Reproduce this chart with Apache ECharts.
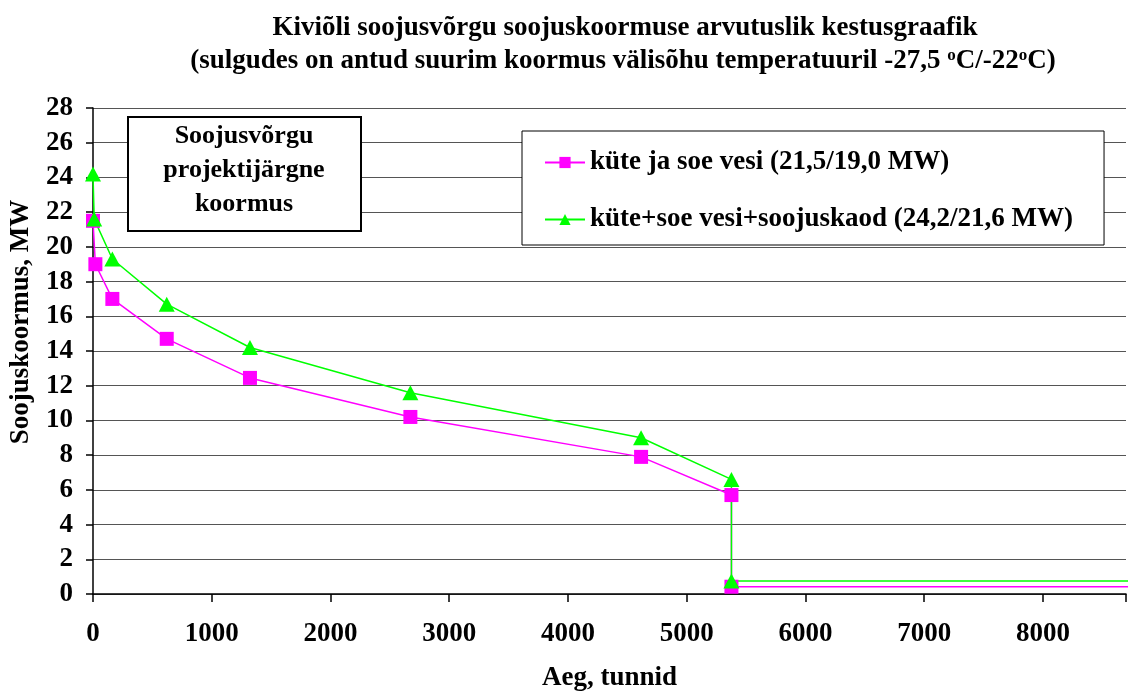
<!DOCTYPE html>
<html>
<head>
<meta charset="utf-8">
<script src="https://cdn.jsdelivr.net/npm/echarts@6/dist/echarts.min.js"></script>
<style>html,body{margin:0;padding:0;background:#fff}#c{width:1129px;height:697px}</style>
</head>
<body>
<div id="c"></div>
<script>
// Data (hours, MW)
const hoursHeat = [0, 20, 163, 621, 1322, 2673, 4616, 5377, 5377, 8760];
const loadHeat  = [21.5, 19.0, 17.0, 14.7, 12.45, 10.2, 7.9, 5.7, 0.42, 0.42];
const hoursTotal = [0, 10, 163, 621, 1322, 2673, 4616, 5377, 5377, 8760];
const loadTotal  = [24.2, 21.6, 19.3, 16.7, 14.2, 11.6, 9.0, 6.6, 0.75, 0.75];
const seriesNames = ['küte ja soe vesi (21,5/19,0 MW)', 'küte+soe vesi+soojuskaod (24,2/21,6 MW)'];
const yTicks = [0, 2, 4, 6, 8, 10, 12, 14, 16, 18, 20, 22, 24, 26, 28];
const xTicks = [0, 1000, 2000, 3000, 4000, 5000, 6000, 7000, 8000];

const F = '"Liberation Serif", "Times New Roman", serif';
const chart = echarts.init(document.getElementById('c'));
const pairs = (xs, ys) => xs.map((x, i) => [x, ys[i]]);

chart.setOption({
  animation: false,
  backgroundColor: '#fff',
  title: [
    { text: 'Kiviõli soojusvõrgu soojuskoormuse arvutuslik kestusgraafik', left: 620, top: 10, textAlign: 'center',
      textStyle: { fontFamily: F, fontWeight: 'bold', fontSize: 27, color: '#000' } },
    { text: '(sulgudes on antud suurim koormus välisõhu temperatuuril -27,5 {s|o}C/-22{s|o}C)', left: 618, top: 42, textAlign: 'center',
      textStyle: { fontFamily: F, fontWeight: 'bold', fontSize: 27, color: '#000',
        rich: { s: { fontFamily: F, fontWeight: 'bold', fontSize: 17, color: '#000', verticalAlign: 'top', padding: [0, 0, 12, 0] } } } }
  ],
  grid: { left: 93, right: 0, top: 108, bottom: 97 },
  xAxis: {
    type: 'value', min: 0, max: 8700, interval: 1000,
    name: 'Aeg, tunnid', nameLocation: 'middle', nameGap: 71,
    nameTextStyle: { fontFamily: F, fontWeight: 'bold', fontSize: 27, color: '#000' },
    axisLine: { show: true, lineStyle: { color: '#000', width: 1.5 } },
    axisTick: { show: true, inside: false, length: 8, lineStyle: { color: '#000', width: 1.5 } },
    axisLabel: { fontFamily: F, fontWeight: 'bold', fontSize: 27, color: '#000', margin: 27,
      formatter: v => xTicks.includes(v) ? String(v) : '' },
    splitLine: { show: false }
  },
  yAxis: {
    type: 'value', min: 0, max: 28, interval: 2,
    axisLine: { show: true, lineStyle: { color: '#000', width: 1.5 } },
    axisTick: { show: true, inside: false, length: 7, lineStyle: { color: '#000', width: 1.5 } },
    axisLabel: { fontFamily: F, fontWeight: 'bold', fontSize: 27, color: '#000', margin: 20,
      formatter: v => yTicks.includes(v) ? String(v) : '' },
    splitLine: { show: true, lineStyle: { color: '#555', width: 1.2 } }
  },
  legend: {
    orient: 'vertical', left: 522, top: 131,
    padding: [18, 31, 12, 22], itemGap: 30, itemWidth: 40, itemHeight: 14,
    backgroundColor: '#fff', borderColor: '#000', borderWidth: 1,
    textStyle: { fontFamily: F, fontWeight: 'bold', fontSize: 27, color: '#000' },
    data: seriesNames
  },
  graphic: [
    { type: 'rect', left: 127, top: 116, shape: { width: 233, height: 114 },
      style: { fill: '#fff', stroke: '#000', lineWidth: 2 }, z: 10 },
    { type: 'text', x: 244, y: 170, z: 11,
      style: { text: 'Soojusvõrgu\nprojektijärgne\nkoormus', font: 'bold 26px ' + F, fill: '#000',
        align: 'center', verticalAlign: 'middle', lineHeight: 34 } },
    { type: 'text', x: 21, y: 322, rotation: Math.PI / 2, z: 11,
      style: { text: 'Soojuskoormus, MW', font: 'bold 27px ' + F, fill: '#000', align: 'center', verticalAlign: 'middle' } }
  ],
  series: [
    { name: seriesNames[0], type: 'line', data: pairs(hoursHeat, loadHeat),
      symbol: 'rect', symbolSize: 14, color: '#ff00ff',
      lineStyle: { color: '#ff00ff', width: 1.5 }, itemStyle: { color: '#ff00ff' } },
    { name: seriesNames[1], type: 'line', data: pairs(hoursTotal, loadTotal),
      symbol: 'triangle', symbolSize: [16, 15], color: '#00ff00',
      lineStyle: { color: '#00ff00', width: 1.5 }, itemStyle: { color: '#00ff00' } }
  ]
});
</script>
</body>
</html>
